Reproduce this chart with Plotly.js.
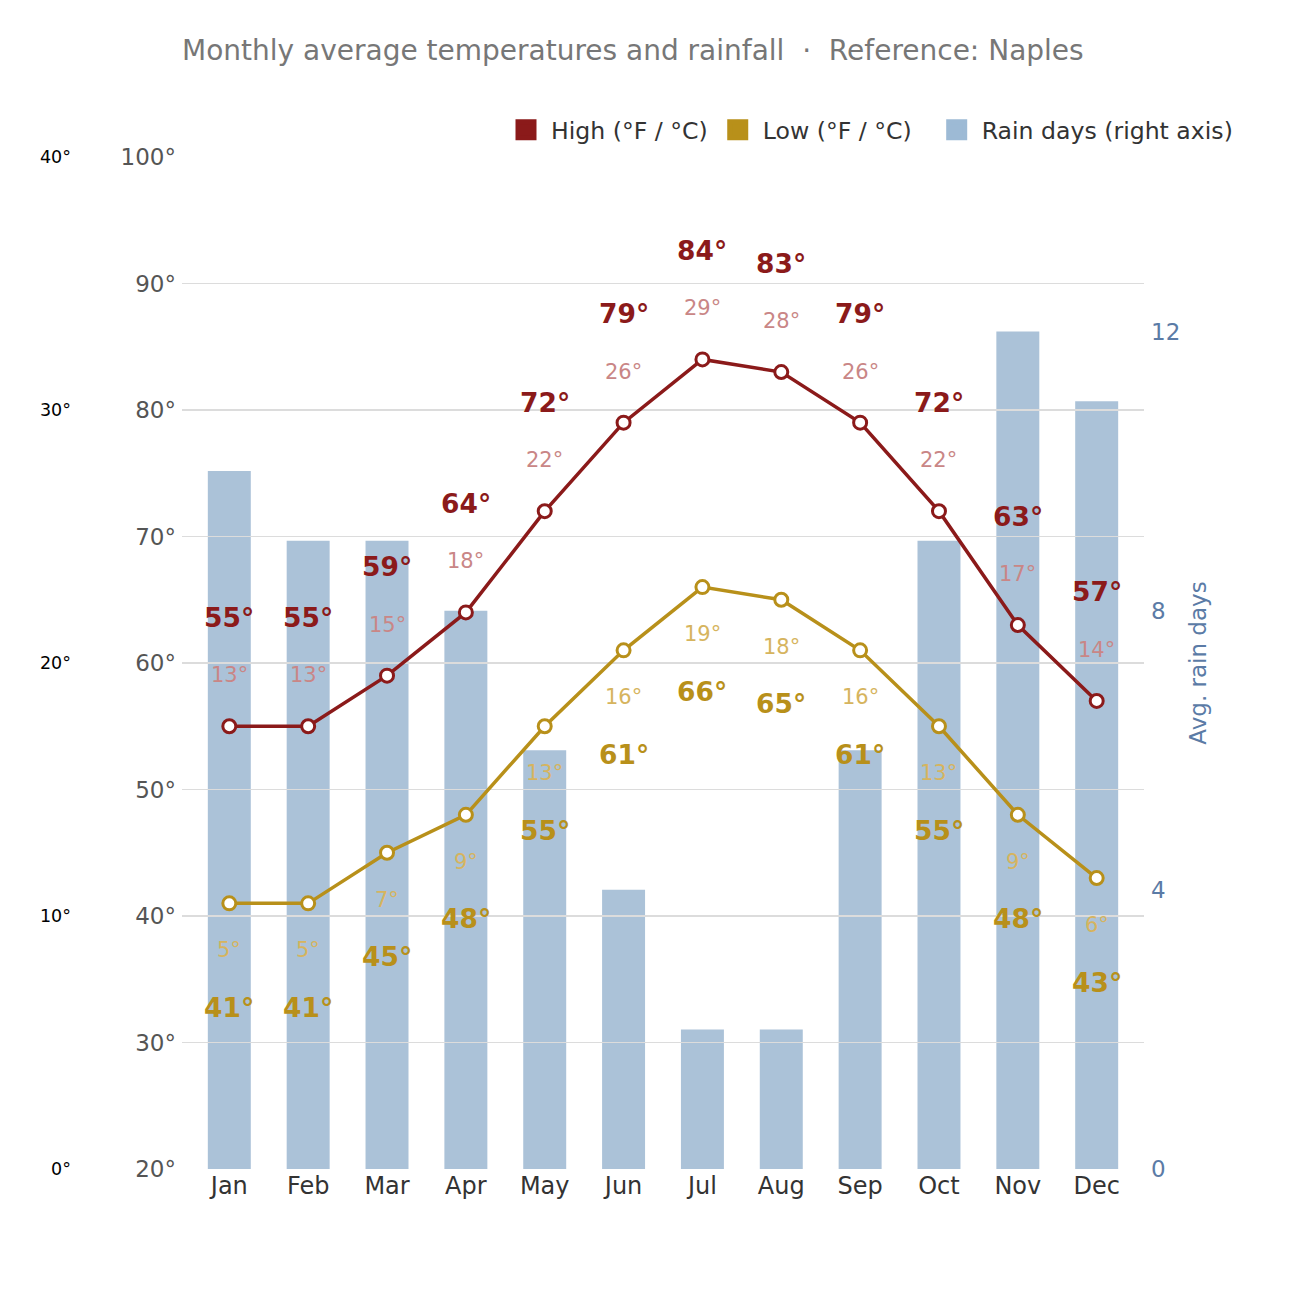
<!DOCTYPE html>
<html>
<head>
<meta charset="utf-8">
<script src="https://cdn.plot.ly/plotly-3.0.1.min.js"></script>
<style>html,body{margin:0;padding:0;background:#fff;}#chart{width:1300px;height:1300px;}</style>
</head>
<body>
<div id="chart"></div>
<script>
// ---- data ----
const months = ["Jan","Feb","Mar","Apr","May","Jun","Jul","Aug","Sep","Oct","Nov","Dec"];
const highF = [55,55,59,64,72,79,84,83,79,72,63,57];
const lowF  = [41,41,45,48,55,61,66,65,61,55,48,43];
const highC = [13,13,15,18,22,26,29,28,26,22,17,14];
const lowC  = [5,5,7,9,13,16,19,18,16,13,9,6];
const rainDays = [10,9,9,8,6,4,2,2,6,9,12,11];
const fTicks = [20,30,40,50,60,70,80,90,100];
const cTicks = [0,10,20,30,40];
const rainTicks = [0,4,8,12];

const FONT = "DejaVu Sans, Verdana, sans-serif";
const HIGH = "#8b1a1a", HIGH_C = "#c98686";
const LOW = "#b8901a", LOW_C = "#d6b45e";
const BAR = "#abc2d8", BAR_LEG = "#9dbad5";
const deg = v => v + "°";

function legendEntry(name, color) {
  return { type: "scatter", mode: "markers", x: [null], y: [null], xaxis: "x", yaxis: "y", name: name,
    marker: { symbol: "square", size: 16, color: color, line: { color: color, width: 5 } },
    hoverinfo: "skip" };
}

const traces = [
  { type: "bar", x: months, y: rainDays, xaxis: "x", yaxis: "y",
    marker: { color: BAR }, showlegend: false, hoverinfo: "skip" },
  { type: "scatter", mode: "lines+markers", x: months, y: highF, xaxis: "x2", yaxis: "y2",
    line: { color: HIGH, width: 3.5 },
    marker: { size: 13, color: "#fff", line: { color: HIGH, width: 3 } }, showlegend: false },
  { type: "scatter", mode: "lines+markers", x: months, y: lowF, xaxis: "x2", yaxis: "y2",
    line: { color: LOW, width: 3.5 },
    marker: { size: 13, color: "#fff", line: { color: LOW, width: 3 } }, showlegend: false },
  { type: "scatter", mode: "markers", x: months, y: highC, xaxis: "x2", yaxis: "y3",
    marker: { opacity: 0 }, showlegend: false, hoverinfo: "skip" },
  legendEntry("High (°F / °C)", HIGH),
  legendEntry("Low (°F / °C)\u00a0\u00a0", LOW),
  legendEntry("Rain days (right axis)", BAR_LEG)
];

const annotations = [];
months.forEach((m, i) => {
  annotations.push({ x: m, y: highF[i], xref: "x2", yref: "y2", text: deg(highF[i]), showarrow: false,
    yshift: 109, font: { family: FONT, size: 26.5, color: HIGH, weight: "bold" } });
  annotations.push({ x: m, y: highF[i], xref: "x2", yref: "y2", text: deg(highC[i]), showarrow: false,
    yshift: 51, font: { family: FONT, size: 21, color: HIGH_C } });
  annotations.push({ x: m, y: lowF[i], xref: "x2", yref: "y2", text: deg(lowC[i]), showarrow: false,
    yshift: -47, font: { family: FONT, size: 21, color: LOW_C } });
  annotations.push({ x: m, y: lowF[i], xref: "x2", yref: "y2", text: deg(lowF[i]), showarrow: false,
    yshift: -104, font: { family: FONT, size: 26.5, color: LOW, weight: "bold" } });
});

const L = 71, R = 156;
const paperW = 1300 - L - R;
const d0 = (182 - L) / paperW;
const xr = [-0.6, 11.6];

const layout = {
  width: 1300, height: 1300,
  margin: { l: L, r: R, t: 157, b: 131 },
  paper_bgcolor: "#fff", plot_bgcolor: "rgba(0,0,0,0)",
  font: { family: FONT, color: "#333" },
  title: { text: "Monthly average temperatures and rainfall \u00a0·\u00a0 Reference: Naples",
    xref: "paper", x: d0, xanchor: "left", y: 1 - 50/1300, yanchor: "middle",
    font: { family: FONT, size: 28, color: "#777" } },
  barmode: "overlay",
  bargap: 0.455,
  showlegend: true,
  legend: { orientation: "h", xref: "paper", x: (1238 - L) / paperW, xanchor: "right",
    y: 1 + 27/1012, yanchor: "middle", font: { family: FONT, size: 23.6, color: "#333" },
    itemwidth: 40, traceorder: "normal", bgcolor: "rgba(0,0,0,0)" },
  xaxis: { domain: [d0, 1], type: "category", categoryorder: "array", categoryarray: months, range: xr,
    showgrid: false, zeroline: false, showline: false, ticks: "",
    tickfont: { family: FONT, size: 24, color: "#333" } },
  xaxis2: { domain: [d0, 1], type: "category", categoryorder: "array", categoryarray: months, range: xr,
    anchor: "y2", visible: false },
  yaxis: { side: "right", range: [0, 14.5], tickvals: rainTicks, ticktext: rainTicks.map(String),
    showgrid: false, zeroline: false, showline: false, ticks: "", ticklabelstandoff: 6,
    tickfont: { family: FONT, size: 23, color: "#5b7ba6" },
    title: { text: "Avg. rain days", standoff: 10, font: { family: FONT, size: 23, color: "#5b7ba6" } } },
  yaxis2: { anchor: "x2", side: "left", range: [20, 100], tickvals: fTicks, ticktext: fTicks.map(deg),
    showgrid: true, gridcolor: "#dcdcdc", gridwidth: 1.5, zeroline: false, showline: false, ticks: "",
    ticklabelstandoff: 5, tickfont: { family: FONT, size: 23, color: "#555" } },
  yaxis3: { overlaying: "y2", anchor: "free", position: 0, side: "left", range: [0, 40],
    tickvals: cTicks, ticktext: cTicks.map(deg), showgrid: false, zeroline: false, showline: false, ticks: "",
    tickfont: { family: FONT, size: 17.5, color: "#000" } },
  annotations: annotations
};

Plotly.newPlot("chart", traces, layout, { displayModeBar: false, staticPlot: true });
</script>
</body>
</html>
